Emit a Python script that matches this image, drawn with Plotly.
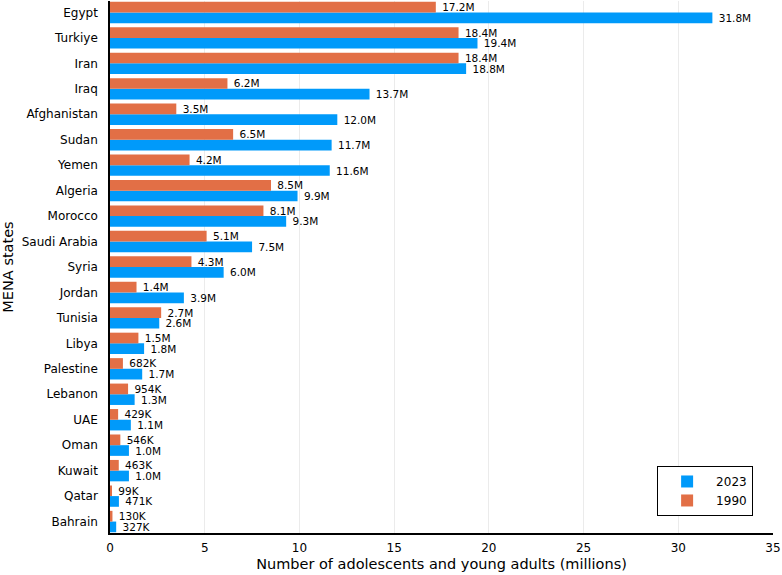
import plotly.graph_objects as go

countries = ["Egypt", "Turkiye", "Iran", "Iraq", "Afghanistan", "Sudan", "Yemen", "Algeria",
             "Morocco", "Saudi Arabia", "Syria", "Jordan", "Tunisia", "Libya", "Palestine",
             "Lebanon", "UAE", "Oman", "Kuwait", "Qatar", "Bahrain"]
v2023 = [31.8, 19.4, 18.8, 13.7, 12.0, 11.7, 11.6, 9.9, 9.3, 7.5, 6.0, 3.9, 2.6, 1.8, 1.7,
         1.3, 1.1, 1.0, 1.0, 0.471, 0.327]
v1990 = [17.2, 18.4, 18.4, 6.2, 3.5, 6.5, 4.2, 8.5, 8.1, 5.1, 4.3, 1.4, 2.7, 1.5, 0.682,
         0.954, 0.429, 0.546, 0.463, 0.099, 0.130]
lab2023 = ["31.8M", "19.4M", "18.8M", "13.7M", "12.0M", "11.7M", "11.6M", "9.9M", "9.3M", "7.5M",
           "6.0M", "3.9M", "2.6M", "1.8M", "1.7M", "1.3M", "1.1M", "1.0M", "1.0M", "471K", "327K"]
lab1990 = ["17.2M", "18.4M", "18.4M", "6.2M", "3.5M", "6.5M", "4.2M", "8.5M", "8.1M", "5.1M",
           "4.3M", "1.4M", "2.7M", "1.5M", "682K", "954K", "429K", "546K", "463K", "99K", "130K"]
xticks = [0, 5, 10, 15, 20, 25, 30, 35]

n = len(countries)
ypos = [n - 1 - i for i in range(n)]
FONT = "DejaVu Sans"
PAD = "\u00a0"

fig = go.Figure()
fig.add_trace(go.Bar(y=ypos, x=v2023, orientation="h", name="2023", marker_color="#009AFA",
                     marker_line_width=0, text=[PAD + t for t in lab2023], textposition="outside",
                     constraintext="none", cliponaxis=False,
                     textfont=dict(family=FONT, size=10.5, color="black")))
fig.add_trace(go.Bar(y=ypos, x=v1990, orientation="h", name="1990", marker_color="#E26F46",
                     marker_line_width=0, text=[PAD + t for t in lab1990], textposition="outside",
                     constraintext="none", cliponaxis=False,
                     textfont=dict(family=FONT, size=10.5, color="black")))

fig.update_layout(
    width=782, height=575, barmode="group", bargap=0.16, bargroupgap=0,
    margin=dict(l=110, r=9, t=1, b=42),
    paper_bgcolor="white", plot_bgcolor="white",
    font=dict(family=FONT, size=12, color="black"),
    showlegend=True,
    legend=dict(x=0.97, y=0.032, xanchor="right", yanchor="bottom",
                bordercolor="black", borderwidth=1, bgcolor="white",
                font=dict(family=FONT, size=12), traceorder="normal",
                tracegroupgap=0, itemwidth=48),
    xaxis=dict(range=[0, 35], tickvals=xticks, ticktext=[str(t) for t in xticks],
               showgrid=True, gridcolor="#EBEBEB", gridwidth=1, zeroline=False,
               showline=True, linecolor="black", linewidth=1.5,
               ticks="outside", ticklen=3, tickcolor="rgba(0,0,0,0)",
               tickfont=dict(family=FONT, size=12),
               title=dict(text="Number of adolescents and young adults (millions)",
                          font=dict(family=FONT, size=14.5), standoff=5),
               automargin=False),
    yaxis=dict(range=[-0.45, 20.45], tickvals=ypos, ticktext=countries,
               showgrid=False, zeroline=False, showline=True, linecolor="black",
               linewidth=1.5, ticks="outside", ticklen=8, tickcolor="rgba(0,0,0,0)",
               tickfont=dict(family=FONT, size=12),
               title=dict(text="MENA states", font=dict(family=FONT, size=14.5), standoff=8),
               automargin=False),
)

fig.write_html("out.html")
